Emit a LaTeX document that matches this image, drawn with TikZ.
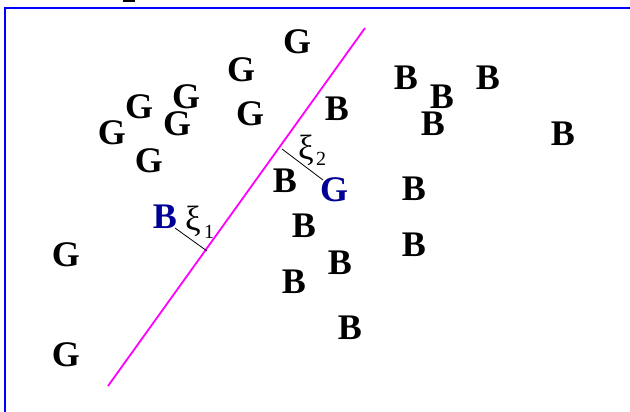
\documentclass[tikz,border=0pt]{standalone}
\usepackage{fontspec}
\setmainfont{Liberation Serif}
\usetikzlibrary{calc}
\definecolor{frameblue}{RGB}{0,0,255}
\definecolor{ptblue}{RGB}{0,0,150}
\definecolor{sepmag}{RGB}{255,0,255}
\begin{document}
\begin{tikzpicture}[x=1pt,y=-1pt,
  lab/.style={inner sep=0pt,font=\fontsize{36}{36}\bfseries\selectfont},
  hilab/.style={lab,text=ptblue},
  xilab/.style={inner sep=0pt,font=\fontsize{35}{35}\selectfont},
  sublab/.style={inner sep=0pt,font=\fontsize{20}{20}\selectfont},
  margin/.style={black,line width=0.8pt}]
\useasboundingbox (0,0) rectangle (630,412);
\fill[white] (0,0) rectangle (630,412);
% frame
\draw[frameblue,line width=2pt] (5,420) -- (5,8) -- (640,8);
\fill[black] (123,0) rectangle (135,2);
% separating line
\coordinate (l0) at (108,386);
\coordinate (l1) at (365,28);
\draw[sepmag,line width=1.8pt] (l0) -- (l1);
% G points
\node[lab] (g1) at (297,42) {G};
\node[lab] (g2) at (241,70) {G};
\node[lab] (g3) at (186,97) {G};
\node[lab] (g4) at (139,107) {G};
\node[lab] (g5) at (177,124) {G};
\node[lab] (g6) at (250,114) {G};
\node[lab] (g7) at (112,133) {G};
\node[lab] (g8) at (149,161) {G};
\node[lab] (g9) at (66,255) {G};
\node[lab] (g10) at (66,355) {G};
% B points
\node[lab] (b1) at (337,109) {B};
\node[lab] (b2) at (406,78) {B};
\node[lab] (b3) at (442,97) {B};
\node[lab] (b4) at (488,78) {B};
\node[lab] (b5) at (433,124) {B};
\node[lab] (b6) at (563,134) {B};
\node[lab] (b7) at (285,181) {B};
\node[lab] (b8) at (414,189) {B};
\node[lab] (b9) at (304,226) {B};
\node[lab] (b10) at (414,245) {B};
\node[lab] (b11) at (340,263) {B};
\node[lab] (b12) at (294,282) {B};
\node[lab] (b13) at (350,328) {B};
% misclassified points
\node[hilab] (mb) at (165,217) {B};
\node[hilab] (mg) at (334,190) {G};
% margins
\coordinate (f1) at (207,251);
\coordinate (f2) at (282,149);
\coordinate (s1) at ($(mb.center)+(10,11)$);
\coordinate (s2) at ($(mg.center)+(-11,-10)$);
\draw[margin] (s1) -- (f1);
\draw[margin] (f2) -- (s2);
\node[xilab] (xi1) at (193,221) {ξ};
\node[sublab] (xi1s) at (209,232) {1};
\node[xilab] (xi2) at (306,150) {ξ};
\node[sublab] (xi2s) at (321,159) {2};
\end{tikzpicture}
\end{document}
